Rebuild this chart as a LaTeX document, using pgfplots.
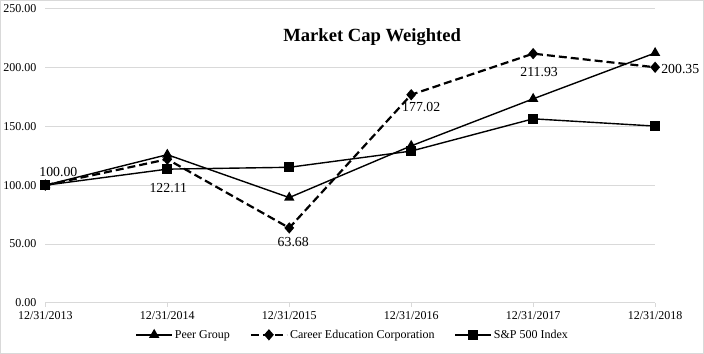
\documentclass[border=0pt]{standalone}
\usepackage{pgfplots}
\pgfplotsset{compat=1.18}
\usepackage{fontspec}
\setmainfont{Liberation Serif}
\definecolor{gridgray}{HTML}{D9D9D9}
\begin{document}
\begin{tikzpicture}
\begin{axis}[name=ax, at={(0,0)}, anchor=south west, scale only axis,
  width=610pt, height=294pt,
  xmin=0, xmax=5, ymin=0, ymax=250,
  xtick={0,1,2,3,4,5},
  xticklabels={12/31/2013,12/31/2014,12/31/2015,12/31/2016,12/31/2017,12/31/2018},
  ytick={0,50,100,150,200,250},
  y tick label style={/pgf/number format/.cd, fixed, fixed zerofill, precision=2, assume math mode=true, /tikz/.cd, font=\fontsize{12}{12}\selectfont, xshift=-1.5pt},
  x tick label style={font=\fontsize{12}{12}\selectfont, yshift=-1.5pt},
  axis x line*=bottom, axis y line*=left,
  x axis line style={gridgray, line width=0.8pt, -},
  y axis line style={draw=none},
  tick align=outside, major tick length=4pt,
  xtick style={gridgray, line width=0.8pt},
  ytick style={draw=none},
  ymajorgrids, grid style={gridgray, line width=0.8pt},
  clip=false,
  legend columns=3,
  legend cell align=left,
  legend style={at={(0.1475,-0.109)}, anchor=west, draw=none, fill=none,
    font=\fontsize{12}{12}\selectfont, inner sep=0pt,
    /tikz/every even column/.append style={column sep=18pt}},
  legend image code/.code={\draw[mark repeat=2, mark phase=2, #1] plot coordinates {(0pt,0pt) (18pt,0pt) (36pt,0pt)};},
]
\addplot[black, line width=1.4pt, mark=triangle*, mark size=4.6pt, mark options={solid}]
  coordinates {(0,100) (1,126) (2,89.5) (3,133.5) (4,173.5) (5,212.5)};
\addlegendentry{Peer Group}
\addplot[black, line width=2.2pt, dash pattern=on 8pt off 4pt, mark=diamond*, mark size=4pt, mark options={solid, xscale=1.15}]
  coordinates {(0,100) (1,122.11) (2,63.68) (3,177.02) (4,211.93) (5,200.35)};
\addlegendentry{Career Education Corporation}
\addplot[black, line width=1.4pt, mark=square*, mark size=4.4pt, mark options={solid}]
  coordinates {(0,100) (1,113.69) (2,115.26) (3,129.05) (4,156.5) (5,150.3)};
\addlegendentry{S\&P 500 Index}

\node[font=\fontsize{13.8}{13.8}\selectfont] at ([xshift=13pt,yshift=13pt]axis cs:0,100) {100.00};
\node[font=\fontsize{13.8}{13.8}\selectfont] at ([xshift=1pt,yshift=-29pt]axis cs:1,122.11) {122.11};
\node[font=\fontsize{13.8}{13.8}\selectfont] at ([xshift=4pt,yshift=-14pt]axis cs:2,63.68) {63.68};
\node[font=\fontsize{13.8}{13.8}\selectfont] at ([xshift=10pt,yshift=-12pt]axis cs:3,177.02) {177.02};
\node[font=\fontsize{13.8}{13.8}\selectfont] at ([xshift=6pt,yshift=-18pt]axis cs:4,211.93) {211.93};
\node[font=\fontsize{13.8}{13.8}\selectfont, anchor=west, inner sep=0pt] at ([xshift=6pt,yshift=-2pt]axis cs:5,200.35) {200.35};
\node[font=\fontsize{18.6}{18.6}\selectfont\bfseries] at (axis cs:2.68,226) {Market Cap Weighted};
\end{axis}
\draw[gridgray, line width=0.8pt] ([xshift=-44.5pt,yshift=-50.5pt]ax.south west) rectangle ([xshift=48.5pt,yshift=8.5pt]ax.north east);
\end{tikzpicture}
\end{document}
